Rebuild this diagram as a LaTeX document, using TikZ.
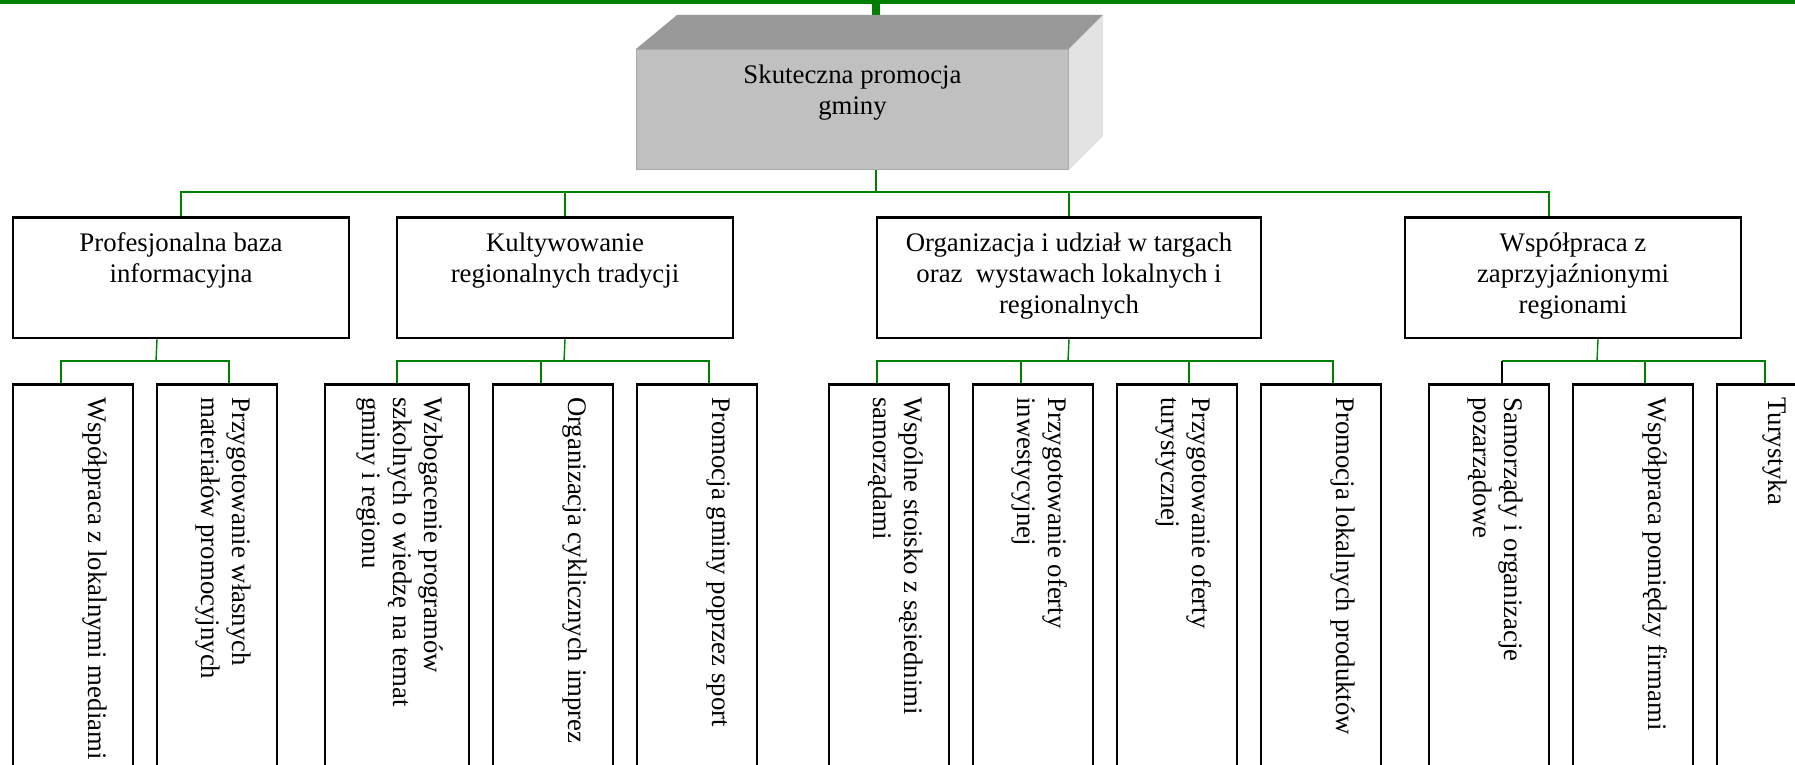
\documentclass[tikz,border=0pt]{standalone}
\usepackage{fontspec}
\setmainfont{Liberation Serif}
\usetikzlibrary{calc}
\definecolor{orggreen}{RGB}{0,128,0}
\definecolor{topface}{RGB}{153,153,153}
\definecolor{frontface}{RGB}{192,192,192}
\definecolor{sideface}{RGB}{227,227,227}
\definecolor{frontedge}{RGB}{170,170,170}
\begin{document}
\begin{tikzpicture}[x=1pt,y=-1pt,
  conn/.style={draw=orggreen, line width=1.4pt},
  headbox/.style={draw=black, line width=2pt, fill=white, anchor=north west, inner sep=0pt, minimum height=120pt},
  subbox/.style={draw=black, line width=2pt, fill=white, anchor=north west, inner sep=0pt, minimum width=120pt, minimum height=420pt},
  htext/.style={font=\fontsize{26.8}{31}\selectfont, align=center, anchor=base, inner sep=0pt},
  vtext/.style={font=\fontsize{26.8}{31}\selectfont, align=left, anchor=base west, rotate=-90, inner sep=0pt},
]
\useasboundingbox (0,0) rectangle (1795,765);
\clip (0,0) rectangle (1795,765);

% top bar and stub
\fill[orggreen] (0,0) rectangle (1795,4.5);
\coordinate (barjoin) at (876,3);
\coordinate (roottop) at (876,16);
\draw[orggreen, line width=8pt] (barjoin) -- (roottop);

% 3D root box
\node[draw=frontedge, line width=1pt, fill=frontface, anchor=north west, minimum width=432pt, minimum height=120pt, inner sep=0pt] (root) at (636,49) {};
\fill[topface] (root.north west) -- ++(41,-34) -- ($(root.north east)+(34,-34)$) -- (root.north east) -- cycle;
\fill[sideface] (root.north east) -- ++(34,-34) -- ($(root.south east)+(34,-34)$) -- (root.south east) -- cycle;
\node[htext] (troot) at ([yshift=-65pt]root.north) {Skuteczna promocja\\gminy};

% level 1 boxes
\node[headbox, minimum width=336pt] (b1) at (12,217) {};
\node[headbox, minimum width=336pt] (b2) at (396,217) {};
\node[headbox, minimum width=384pt] (b3) at (876,217) {};
\node[headbox, minimum width=336pt] (b4) at (1404,217) {};

% level 2 boxes
\node[subbox] (vA) at (12,384) {};
\node[subbox] (vB) at (156,384) {};
\node[subbox, minimum width=144pt] (vC) at (324,384) {};
\node[subbox] (vD) at (492,384) {};
\node[subbox] (vE) at (636,384) {};
\node[subbox] (vF) at (828,384) {};
\node[subbox] (vG) at (972,384) {};
\node[subbox] (vH) at (1116,384) {};
\node[subbox] (vI) at (1260,384) {};
\node[subbox] (vJ) at (1428,384) {};
\node[subbox] (vK) at (1572,384) {};
\node[subbox, minimum width=96pt] (vL) at (1716,384) {};

% connectors level 1
\coordinate (j0) at (876,192);
\draw[conn] (root.south -| j0) -- (j0);
\draw[conn] (j0) -| (b1.north);
\draw[conn] (j0) -| (b2.north);
\draw[conn] (j0) -| (b3.north);
\draw[conn] (j0) -| ([xshift=-24pt]b4.north);

% connectors level 2
\coordinate (j1) at (156,361);
\draw[conn] ([xshift=-24pt]b1.south) -- (j1);
\draw[conn] (j1) -| ([xshift=-12pt]vA.north);
\draw[conn] (j1) -| ([xshift=12pt]vB.north);

\coordinate (j2) at (564,361);
\draw[conn] (b2.south) -- (j2);
\draw[conn] (j2) -| (vC.north);
\draw[conn] (j2) -| ([xshift=-12pt]vD.north);
\draw[conn] (j2) -| ([xshift=12pt]vE.north);

\coordinate (j3) at (1068,361);
\draw[conn] (b3.south) -- (j3);
\draw[conn] (j3) -| ([xshift=-12pt]vF.north);
\draw[conn] (j3) -| ([xshift=-12pt]vG.north);
\draw[conn] (j3) -| ([xshift=12pt]vH.north);
\draw[conn] (j3) -| ([xshift=12pt]vI.north);

\coordinate (j4) at (1597,361);
\coordinate (jJ) at ([xshift=13pt]vJ.north);
\draw[conn] ([xshift=25pt]b4.south) -- (j4);
\draw[conn] (j4) -- (j4 -| jJ);
\draw[conn, draw=black] (j4 -| jJ) -- (jJ);
\draw[conn] (j4) -| ([xshift=12pt]vK.north);
\draw[conn] (j4) -| (vL.north);

% redraw box borders over connector ends
\foreach \n in {b1,b2,b3,b4,vA,vB,vC,vD,vE,vF,vG,vH,vI,vJ,vK,vL}
  \draw[black, line width=2pt] (\n.north west) -- (\n.north east);

% level 1 texts (anchor = baseline of last line)
\node[htext] (t1) at ([yshift=-65pt]b1.north) {Profesjonalna baza\\informacyjna};
\node[htext] (t2) at ([yshift=-65pt]b2.north) {Kultywowanie\\regionalnych tradycji};
\node[htext] (t3) at ([yshift=-96pt]b3.north) {Organizacja i udział w targach\\oraz~ wystawach lokalnych i\\regionalnych};
\node[htext] (t4) at ([yshift=-96pt]b4.north) {Współpraca z\\zaprzyjaźnionymi\\regionami};

% level 2 texts (anchor = baseline of last line)
\node[vtext] (tA) at ([xshift=-46pt, yshift=-13pt]vA.north east) {Współpraca z lokalnymi mediami};
\node[vtext] (tB) at ([xshift=-77pt, yshift=-13pt]vB.north east) {Przygotowanie własnych\\materiałów promocyjnych};
\node[vtext] (tC) at ([xshift=-108pt, yshift=-13pt]vC.north east) {Wzbogacenie programów\\szkolnych o wiedzę na temat\\gminy i regionu};
\node[vtext] (tD) at ([xshift=-46pt, yshift=-13pt]vD.north east) {Organizacja cyklicznych imprez};
\node[vtext] (tE) at ([xshift=-46pt, yshift=-13pt]vE.north east) {Promocja gminy poprzez sport};
\node[vtext] (tF) at ([xshift=-77pt, yshift=-13pt]vF.north east) {Wspólne stoisko z sąsiednimi\\samorządami};
\node[vtext] (tG) at ([xshift=-77pt, yshift=-13pt]vG.north east) {Przygotowanie oferty\\inwestycyjnej};
\node[vtext] (tH) at ([xshift=-77pt, yshift=-13pt]vH.north east) {Przygotowanie oferty\\turystycznej};
\node[vtext] (tI) at ([xshift=-46pt, yshift=-13pt]vI.north east) {Promocja lokalnych produktów};
\node[vtext] (tJ) at ([xshift=-77pt, yshift=-13pt]vJ.north east) {Samorządy i organizacje\\pozarządowe};
\node[vtext] (tK) at ([xshift=-46pt, yshift=-13pt]vK.north east) {Współpraca pomiędzy firmami};
\node[vtext] (tL) at ([xshift=-46pt, yshift=-13pt]vL.north east) {Turystyka};
\end{tikzpicture}
\end{document}
